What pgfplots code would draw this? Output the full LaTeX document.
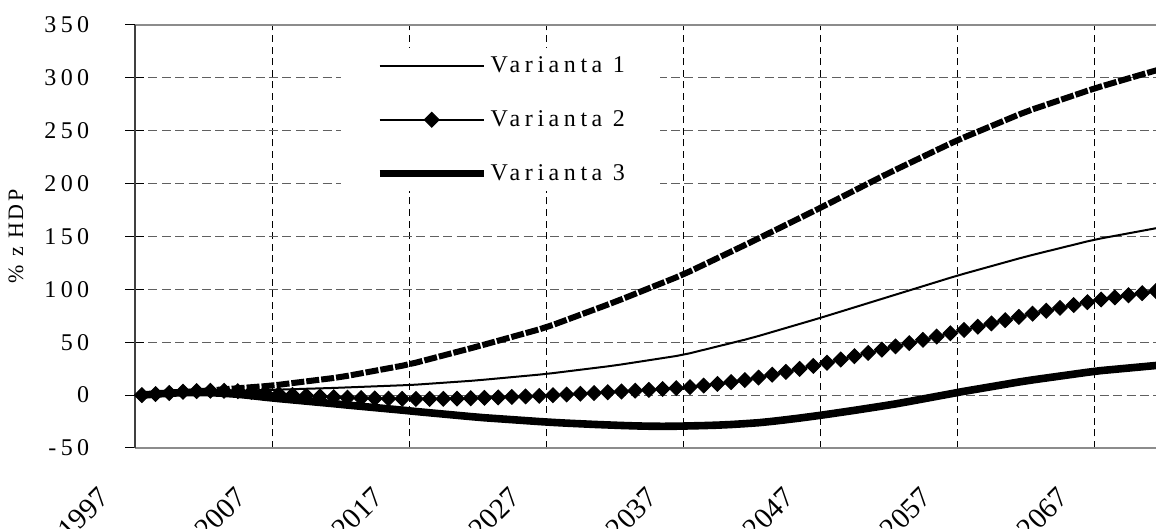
\documentclass[border=0pt]{standalone}
\usepackage{pgfplots}
\pgfplotsset{compat=1.18}
\usepackage{fontspec}
\setmainfont{Liberation Serif}
\newfontfamily\spaced[LetterSpace=18]{Liberation Serif}
\newfontfamily\legspaced[LetterSpace=19]{Liberation Serif}
\newfontfamily\lspaced[LetterSpace=12]{Liberation Serif}

\definecolor{gridgray}{HTML}{606060}
\definecolor{framegray}{HTML}{8C8C8C}
\definecolor{axisdark}{HTML}{404040}

% x = year + 0.5 (points sit in the middle of each year's slot)
\pgfplotstableread{
x      v1     v2     v3     v4
1997.5 0.5    0      0      0.5
1998.5 1.1    1      1      1.3
1999.5 1.6    2      1.8    2.1
2000.5 2.2    3.2    2.3    2.9
2001.5 2.7    3.8    2.5    3.6
2002.5 3.2    4.1    2.3    4.5
2003.5 3.6    4.1    1.7    5.5
2004.5 4      3.7    0.8    6.5
2005.5 4.4    3      -0.5   7.5
2006.5 4.8    2      -2     8.5
2007.5 5.2    1      -3.3   9.8
2008.5 5.6    0.2    -4.5   11.4
2009.5 6      -0.6   -5.7   13
2010.5 6.4    -1.3   -6.9   14.6
2011.5 6.8    -1.9   -8.1   16.2
2012.5 7.3    -2.4   -9.4   18.2
2013.5 7.8    -2.8   -10.6  20.6
2014.5 8.3    -3.1   -11.8  23
2015.5 8.8    -3.3   -13    25.4
2016.5 9.3    -3.5   -14.2  27.8
2017.5 9.9    -3.6   -15.5  30.7
2018.5 10.8   -3.6   -16.7  34.1
2019.5 11.7   -3.5   -17.9  37.5
2020.5 12.6   -3.3   -19.1  40.9
2021.5 13.5   -3     -20.3  44.3
2022.5 14.6   -2.6   -21.4  47.8
2023.5 15.8   -2.2   -22.3  51.4
2024.5 17     -1.7   -23.2  55
2025.5 18.2   -1.2   -24.1  58.6
2026.5 19.4   -0.7   -25    62.2
2027.5 20.8   -0.1   -25.8  66.4
2028.5 22.4   0.6    -26.5  71.2
2029.5 24     1.3    -27.1  76
2030.5 25.6   2      -27.7  80.8
2031.5 27.2   2.7    -28.2  85.6
2032.5 29     3.4    -28.7  90.6
2033.5 31     4.2    -29.1  95.8
2034.5 33     5      -29.4  101
2035.5 35     5.8    -29.5  106.2
2036.5 37     6.6    -29.4  111.4
2037.5 39.6   7.6    -29.1  117.1
2038.5 42.8   9      -28.8  123.3
2039.5 46     10.6   -28.4  129.5
2040.5 49.2   12.3   -27.8  135.7
2041.5 52.4   14.2   -27    141.9
2042.5 55.9   16.6   -26.1  148.2
2043.5 59.7   19.3   -24.8  154.6
2044.5 63.5   22     -23.3  161
2045.5 67.3   24.8   -21.7  167.4
2046.5 71.1   27.6   -20    173.8
2047.5 75     30.6   -18.2  180.3
2048.5 79     33.7   -16.3  186.9
2049.5 83     36.8   -14.4  193.5
2050.5 87     39.9   -12.4  200.1
2051.5 91     43     -10.4  206.7
2052.5 95     46.1   -8.3   213.1
2053.5 99     49.2   -6     219.3
2054.5 103    52.3   -3.6   225.5
2055.5 107    55.4   -1.2   231.7
2056.5 111    58.5   1.2    237.9
2057.5 114.8  61.6   3.6    243.7
2058.5 118.4  64.7   5.8    249.1
2059.5 122    67.8   8      254.5
2060.5 125.6  70.9   10.2   259.9
2061.5 129.2  74     12.4   265.3
2062.5 132.6  77     14.4   270.2
2063.5 135.8  79.8   16.2   274.6
2064.5 139    82.5   18     279
2065.5 142.2  85.2   19.8   283.4
2066.5 145.4  87.9   21.6   287.8
2067.5 148.2  90.4   23.2   291.9
2068.5 150.6  92.4   24.4   295.7
2069.5 153    94.4   25.6   299.5
2070.5 155.4  96.4   26.8   303.3
2071.5 157.8  98.4   28     307
2072.5 160    100.2  29     310.5
}\data

\begin{document}
\begin{tikzpicture}
\begin{axis}[
    scale only axis,
    width=512.5pt, height=211.5pt,
    xmin=1997, xmax=2071.8,
    ymin=-50, ymax=350,
    xtick={1997,2007,...,2067},
    ytick={-50,0,...,350},
    /pgf/number format/1000 sep={},
    /pgf/number format/assume math mode=true,
    separate axis lines,
    x axis line style={framegray, line width=1pt},
    y axis line style={axisdark, line width=1pt},
    ytick pos=left,
    xtick style={draw=none},
    ytick style={black, line width=0.5pt},
    tick align=center,
    major tick length=9.5pt,
    grid=major,
    major x grid style={black, line width=0.5pt, dash pattern=on 3.5pt off 2.3pt},
    major y grid style={gridgray, line width=0.5pt, dash pattern=on 4.5pt off 2.2pt},
    extra y ticks={0},
    extra y tick labels={},
    extra y tick style={grid=major, major grid style={black, solid, line width=0.5pt}, ytick style={draw=none}},
    yticklabel style={font=\spaced\fontsize{12}{14}\selectfont, anchor=east, inner sep=0pt, xshift=-18pt},
    xticklabel style={font=\fontsize{14.5}{16}\selectfont, xshift=-19pt, yshift=-14pt, rotate=45, anchor=north east, inner sep=0pt},
    ylabel={\% z HDP},
    every axis y label/.style={at={(axis description cs:-0.1161,0.5)}, anchor=center, rotate=90, font=\lspaced\fontsize{11}{13}\selectfont},
    legend style={at={(axis description cs:0.2005,0.9456)}, anchor=north west,
        draw=none, fill=white, inner xsep=17.5pt, inner ysep=4pt,
        row sep=17.5pt, column sep=1.5pt,
        font=\legspaced\fontsize{12}{14}\selectfont,
        nodes={inner sep=0pt}},
    legend cell align=left,
    legend image code/.code={\draw[mark repeat=2, mark phase=2, #1] plot coordinates {(0pt,0pt) (26pt,0pt) (52pt,0pt)};},
]
\addplot[black, line width=1pt] table[y=v1] {\data};
\addplot[black, line width=0.8pt, mark=square*, mark size=2.6pt, mark options={rotate=45, solid, line width=0.5pt}] table[y=v2] {\data};
\addplot[black, line width=3.8pt] table[y=v3] {\data};
\addplot[black, line width=3pt, dash pattern=on 6.5pt off 1pt] table[y=v4] {\data};
\legend{Varianta 1, Varianta 2, Varianta 3}
\end{axis}
\pgfresetboundingbox
\useasboundingbox (-67.5pt,-40.5pt) rectangle (510.5pt,224pt);
\end{tikzpicture}
\end{document}
